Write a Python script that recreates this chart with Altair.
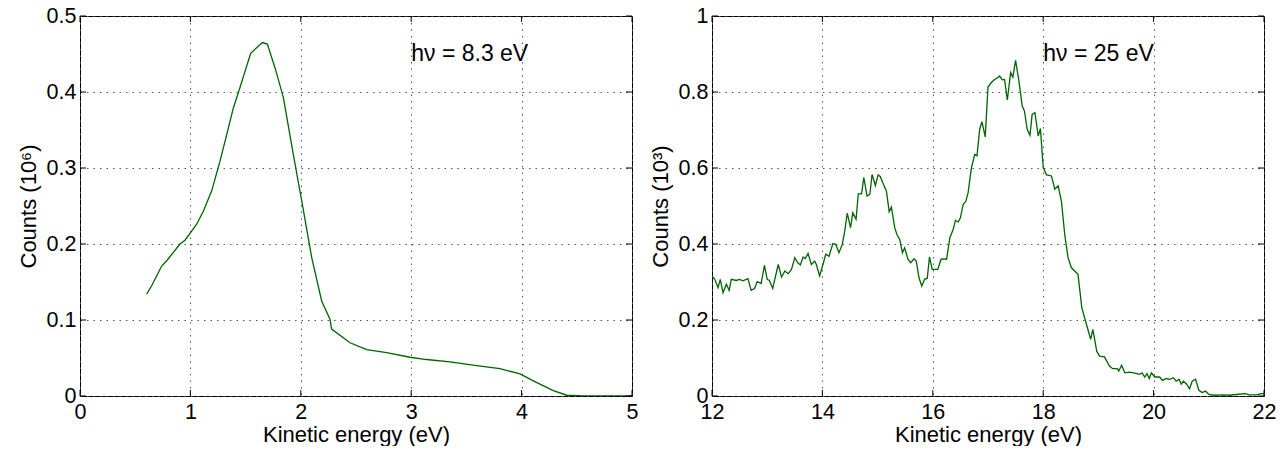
import altair as alt
import pandas as pd

# ---- left panel data (hv = 8.3 eV) ----
left_energy = [0.604, 0.649, 0.740, 0.785, 0.906, 0.951, 1.057, 1.117, 1.193, 1.268,
               1.329, 1.389, 1.449, 1.546, 1.652, 1.697, 1.766, 1.842, 1.932, 2.008,
               2.099, 2.189, 2.264, 2.279, 2.446, 2.597, 2.778, 2.989, 3.140, 3.351,
               3.593, 3.804, 3.986, 4.106, 4.287, 4.410, 4.560, 5.000]
left_counts = [0.134, 0.145, 0.171, 0.178, 0.200, 0.205, 0.226, 0.243, 0.270, 0.309,
               0.344, 0.379, 0.406, 0.451, 0.465, 0.463, 0.432, 0.393, 0.318, 0.257,
               0.182, 0.125, 0.101, 0.088, 0.070, 0.061, 0.057, 0.051, 0.048, 0.045,
               0.040, 0.036, 0.029, 0.020, 0.007, 0.001, 0.000, 0.000]

# ---- right panel data (hv = 25 eV) ----
right_energy = [12.00, 12.05, 12.11, 12.15, 12.20, 12.26, 12.31, 12.35, 12.44, 12.50,
                12.56, 12.65, 12.71, 12.77, 12.82, 12.89, 12.95, 13.00, 13.04, 13.10,
                13.20, 13.26, 13.32, 13.38, 13.44, 13.50, 13.55, 13.60, 13.65, 13.69,
                13.74, 13.80, 13.86, 13.89, 13.95, 14.01, 14.06, 14.12, 14.19, 14.24,
                14.30, 14.36, 14.40, 14.45, 14.51, 14.55, 14.61, 14.65, 14.71, 14.75,
                14.81, 14.86, 14.90, 14.96, 15.01, 15.05, 15.10, 15.16, 15.21, 15.25,
                15.31, 15.35, 15.40, 15.45, 15.49, 15.55, 15.60, 15.66, 15.70, 15.75,
                15.80, 15.85, 15.90, 15.94, 15.99, 16.09, 16.15, 16.20, 16.25, 16.31,
                16.37, 16.41, 16.46, 16.50, 16.55, 16.60, 16.64, 16.70, 16.76, 16.80,
                16.85, 16.89, 16.95, 17.00, 17.06, 17.12, 17.18, 17.21, 17.26, 17.30,
                17.35, 17.41, 17.45, 17.50, 17.56, 17.62, 17.66, 17.71, 17.76, 17.80,
                17.85, 17.91, 17.95, 18.00, 18.06, 18.15, 18.21, 18.27, 18.33, 18.39,
                18.45, 18.51, 18.63, 18.70, 18.75, 18.81, 18.86, 18.90, 18.97, 19.02,
                19.11, 19.20, 19.26, 19.34, 19.37, 19.42, 19.48, 19.57, 19.66, 19.75,
                19.79, 19.84, 19.88, 19.92, 19.96, 20.02, 20.11, 20.16, 20.23, 20.29,
                20.36, 20.41, 20.46, 20.50, 20.54, 20.60, 20.65, 20.70, 20.76, 20.82,
                20.88, 20.94, 21.00, 21.10, 21.26, 21.38, 21.50, 21.65, 21.74, 21.86,
                21.95, 22.00]
right_counts = [0.316, 0.307, 0.285, 0.307, 0.272, 0.294, 0.278, 0.307, 0.304, 0.307,
                0.303, 0.309, 0.278, 0.283, 0.301, 0.296, 0.344, 0.307, 0.304, 0.283,
                0.346, 0.313, 0.329, 0.322, 0.333, 0.364, 0.351, 0.345, 0.366, 0.362,
                0.375, 0.346, 0.355, 0.346, 0.316, 0.346, 0.373, 0.368, 0.401, 0.399,
                0.377, 0.399, 0.430, 0.481, 0.443, 0.482, 0.465, 0.532, 0.532, 0.575,
                0.526, 0.531, 0.583, 0.554, 0.582, 0.577, 0.559, 0.539, 0.485, 0.497,
                0.443, 0.425, 0.412, 0.377, 0.390, 0.360, 0.351, 0.361, 0.355, 0.311,
                0.289, 0.307, 0.310, 0.366, 0.333, 0.333, 0.360, 0.361, 0.360, 0.417,
                0.439, 0.462, 0.458, 0.469, 0.504, 0.513, 0.535, 0.601, 0.636, 0.632,
                0.702, 0.722, 0.682, 0.813, 0.825, 0.833, 0.838, 0.842, 0.832, 0.833,
                0.779, 0.851, 0.839, 0.883, 0.829, 0.763, 0.750, 0.702, 0.686, 0.741,
                0.746, 0.684, 0.704, 0.601, 0.582, 0.579, 0.544, 0.553, 0.513, 0.425,
                0.364, 0.338, 0.320, 0.232, 0.206, 0.175, 0.149, 0.175, 0.118, 0.105,
                0.103, 0.079, 0.072, 0.072, 0.066, 0.081, 0.061, 0.063, 0.060, 0.057,
                0.061, 0.050, 0.059, 0.046, 0.061, 0.050, 0.050, 0.041, 0.046, 0.044,
                0.048, 0.039, 0.044, 0.031, 0.039, 0.031, 0.019, 0.039, 0.044, 0.015,
                0.009, 0.013, 0.004, 0.002, 0.003, 0.002, 0.004, 0.006, 0.003, 0.003,
                0.006, 0.006]

left_xticks = [0, 1, 2, 3, 4, 5]
left_yticks = [0, 0.1, 0.2, 0.3, 0.4, 0.5]
right_xticks = [12, 14, 16, 18, 20, 22]
right_yticks = [0, 0.2, 0.4, 0.6, 0.8, 1.0]

left_label = ["hν = 8.3 eV"]
left_label_pos = [(3.0, 0.45)]
right_label = ["hν = 25 eV"]
right_label_pos = [(18.0, 0.9)]

FONT = "Liberation Sans"
LINE = "#006400"
W, H = 552, 380
TICK = 6


def panel(xs, ys, xdom, ydom, xticks, yticks, ytitle, label, label_pos):
    df = pd.DataFrame({"x": xs, "y": ys})
    xscale = alt.Scale(domain=xdom, nice=False, zero=False)
    yscale = alt.Scale(domain=ydom, nice=False, zero=False)
    common = dict(grid=True, gridDash=[1.5, 5], gridColor="#555555", gridWidth=1,
                  ticks=False, tickSize=0, domain=False, labelFlush=False,
                  labelFont=FONT, titleFont=FONT, labelFontSize=21.5, titleFontSize=22,
                  labelColor="black", titleColor="black", titleFontWeight="normal")
    xaxis = alt.Axis(values=xticks, format="~g", title="Kinetic energy (eV)",
                     labelPadding=5, titlePadding=2, **common)
    yaxis = alt.Axis(values=yticks, format="~g", title=ytitle,
                     labelPadding=4, titlePadding=6, **common)
    line = alt.Chart(df).mark_line(color=LINE, strokeWidth=1.3, clip=True).encode(
        x=alt.X("x:Q", scale=xscale, axis=xaxis),
        y=alt.Y("y:Q", scale=yscale, axis=yaxis),
    )
    tdf = pd.DataFrame({"x": [p[0] for p in label_pos], "y": [p[1] for p in label_pos],
                        "t": label})
    text = alt.Chart(tdf).mark_text(align="left", baseline="middle", font=FONT,
                                    fontSize=23, color="black").encode(
        x=alt.X("x:Q", scale=xscale), y=alt.Y("y:Q", scale=yscale), text="t:N")
    xt = pd.DataFrame({"v": xticks})
    yt = pd.DataFrame({"v": yticks})
    tick_style = dict(color="black", strokeWidth=1)
    xt_bottom = alt.Chart(xt).mark_rule(**tick_style).encode(
        x=alt.X("v:Q", scale=xscale), y=alt.value(H), y2=alt.value(H - TICK))
    xt_top = alt.Chart(xt).mark_rule(**tick_style).encode(
        x=alt.X("v:Q", scale=xscale), y=alt.value(0), y2=alt.value(TICK))
    yt_left = alt.Chart(yt).mark_rule(**tick_style).encode(
        y=alt.Y("v:Q", scale=yscale), x=alt.value(0), x2=alt.value(TICK))
    yt_right = alt.Chart(yt).mark_rule(**tick_style).encode(
        y=alt.Y("v:Q", scale=yscale), x=alt.value(W), x2=alt.value(W - TICK))
    return alt.layer(line, xt_bottom, xt_top, yt_left, yt_right, text).properties(
        width=W, height=H)


left = panel(left_energy, left_counts, [0, 5], [0, 0.5], left_xticks, left_yticks,
             "Counts (10⁶)", left_label, left_label_pos)
right = panel(right_energy, right_counts, [12, 22], [0, 1], right_xticks, right_yticks,
              "Counts (10³)", right_label, right_label_pos)

chart = alt.hconcat(left, right, spacing=9).properties(
    padding={"left": 8, "top": -4, "right": 0, "bottom": 0},
    background="white",
).configure_view(stroke="black", strokeWidth=1)

chart.save("out.html", embed_options={"renderer": "svg", "actions": False})
